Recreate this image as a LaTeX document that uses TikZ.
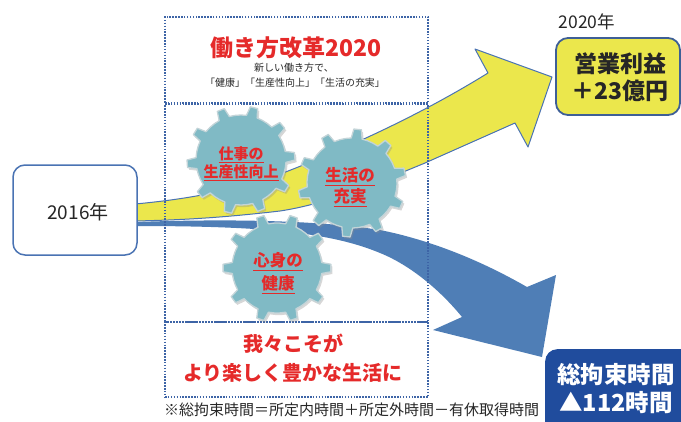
\documentclass[tikz,border=0pt]{standalone}
\usepackage{fontspec}
\setmainfont{Noto Sans CJK JP}
\usetikzlibrary{calc}

\definecolor{dotblue}{HTML}{3D64A6}
\definecolor{sloganred}{HTML}{E52A2A}
\definecolor{arrowyellow}{HTML}{EBE74C}
\definecolor{edgeblue}{HTML}{4A73B3}
\definecolor{arrowblue}{HTML}{4F7EB6}
\definecolor{deepblue}{HTML}{204C9D}
\definecolor{frameblue}{HTML}{3E5F96}
\definecolor{gearteal}{HTML}{80BAC5}
\definecolor{gearrim}{HTML}{C3D4D8}
\definecolor{inkgray}{HTML}{262626}

\tikzset{
  dotbox/.style={draw=dotblue, line width=1.6pt, dash pattern=on 1.5pt off 1.4pt},
  yearbox/.style={draw=edgeblue, line width=1.5pt, fill=white, rounded corners=12pt},
  resultbox/.style={draw=frameblue, line width=1.8pt, fill=arrowyellow, rounded corners=12pt},
  hoursbox/.style={fill=deepblue, rounded corners=12pt},
  geartext/.style={text=sloganred, font=\bfseries\fontsize{15}{18}\selectfont, align=center, inner sep=0pt},
  gearbody/.style={fill=gearteal, draw=gearrim, line width=1.3pt, line join=round,
    preaction={fill=black!45, opacity=.35, transform canvas={shift={(1.6pt,-2.2pt)}}}},
  cog/.pic={
    \filldraw[gearbody] (-7:45)
      \foreach \t in {0,36,...,324}{
        -- ({\t-4}:54) -- ({\t+4}:54) -- ({\t+7}:45)
        -- ({\t+14.33}:45) -- ({\t+21.67}:45) -- ({\t+29}:45)
      } -- cycle;
  }
}

\begin{document}
\begin{tikzpicture}[x=1pt, y=-1pt]
\useasboundingbox (0,0) rectangle (681,421);

% rising yellow arrow
\filldraw[fill=arrowyellow, draw=edgeblue, line width=1pt, line join=round]
  (135,204) .. controls (200,198) and (240,188) .. (283,173)
  .. controls (350,147) and (420,115) .. (488,73)
  -- (475,49) -- (552,77) -- (528,147) -- (515,123)
  -- (425,163) .. controls (360,190) and (320,205) .. (280,211)
  .. controls (220,218) and (180,220) .. (135,221) -- cycle;

% falling blue arrow
\fill[arrowblue]
  (135,222) .. controls (250,218) and (330,222) .. (380,230)
  .. controls (430,240) and (480,260) .. (527,287)
  -- (556,275) -- (542,357) -- (433,330) -- (462,317)
  .. controls (440,290) and (410,265) .. (380,253)
  .. controls (330,232) and (260,226) .. (135,226) -- cycle;

% starting point
\node[yearbox, minimum width=124pt, minimum height=90pt] (start) at (75,210) {};
\node[text=inkgray, font=\fontsize{19}{21}\selectfont] (startyear) at (78,212) {2016年};

% dotted frames
\node[dotbox, minimum width=263pt, minimum height=86pt] (topframe) at (296.5,60) {};
\node[dotbox, minimum width=263pt, minimum height=218pt] (midframe) at (296.5,213) {};
\node[dotbox, minimum width=263pt, minimum height=75pt] (lowframe) at (296.5,359.5) {};

% headline
\node[text=sloganred, font=\bfseries\fontsize{23}{26}\selectfont] (headline) at (296,48) {働き方改革2020};
\node[text=inkgray, font=\fontsize{10}{12}\selectfont] (subline1) at (294,68) {新しい働き方で、};
\node[text=inkgray, font=\fontsize{10}{12}\selectfont] (subline2) at (295,83) {「健康」「生産性向上」「生活の充実」};

% gears
\pic[rotate=4] (cogwork) at (241,160) {cog};
\pic[rotate=12] (coglife) at (352,183) {cog};
\pic[rotate=0] (cogbody) at (277,268) {cog};
\node[geartext] (worktext) at (241,164) {\underline{仕事の}\\\underline{生産性向上}};
\node[geartext, font=\bfseries\fontsize{16.5}{21}\selectfont] (lifetext) at (350,187) {\underline{生活の}\\\underline{充実}};
\node[geartext, font=\bfseries\fontsize{16.5}{23}\selectfont] (bodytext) at (278,273) {\underline{心身の}\\\underline{健康}};

% slogan
\node[text=sloganred, font=\bfseries\fontsize{20}{29}\selectfont, align=center] (slogan) at (293,358) {我々こそが\\より楽しく豊かな生活に};

% footnote
\node[text=inkgray, font=\fontsize{15}{17}\selectfont, anchor=west, inner sep=0pt] (note) at (164,410) {※総拘束時間＝所定内時間＋所定外時間－有休取得時間};

% results
\node[text=inkgray, font=\fontsize{17.5}{20}\selectfont] (goalyear) at (587,22) {2020年};
\node[resultbox, minimum width=124pt, minimum height=77pt] (profit) at (618,76.5) {};
\node[text=inkgray, font=\bfseries\fontsize{23}{27}\selectfont, align=center] (profittext) at (620,77) {営業利益\\＋23億円};
\node[hoursbox, minimum width=160pt, minimum height=100pt, anchor=north west] (hours) at (545,349) {};
\node[text=white, font=\bfseries\fontsize{23.5}{28}\selectfont, align=center] (hourstext) at (616,389) {総拘束時間\\▲112時間};
\end{tikzpicture}
\end{document}
